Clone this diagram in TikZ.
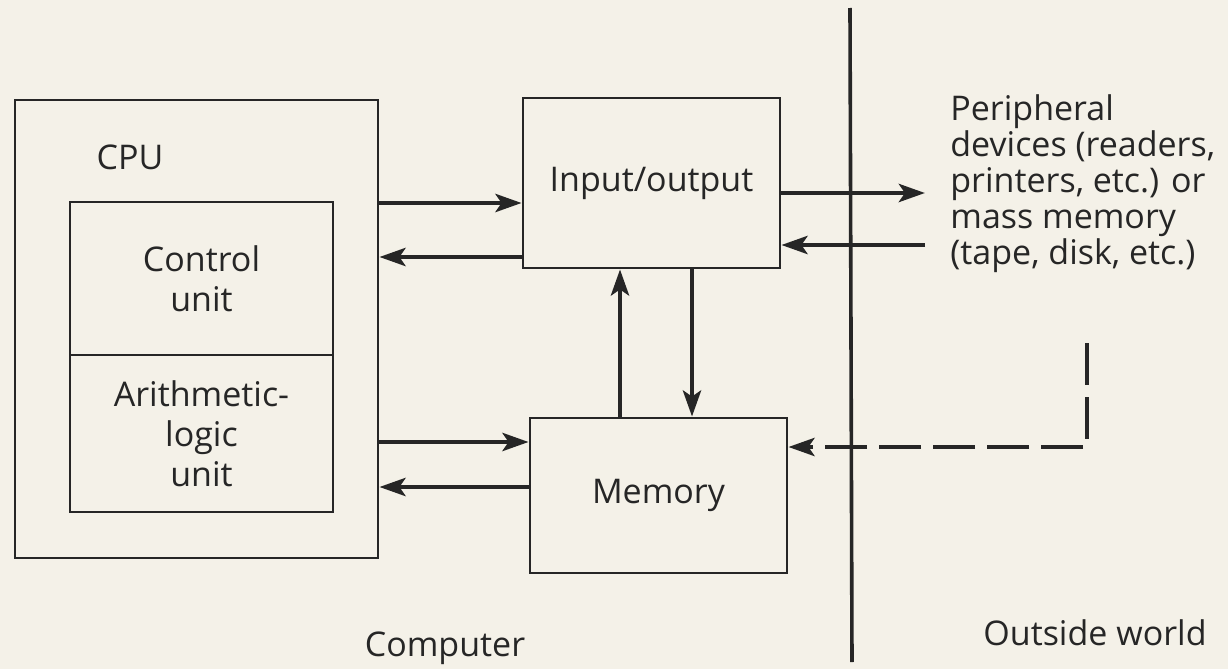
\documentclass[tikz,border=0pt]{standalone}
\usepackage{fontspec}
\setmainfont{Open Sans}
\usetikzlibrary{arrows.meta}
\definecolor{paper}{RGB}{244,241,232}
\definecolor{ink}{RGB}{38,38,38}
\tikzset{
    unit/.style={draw, line width=1.4pt, inner sep=0pt, align=center},
    flow/.style={line width=2.4pt, -{Stealth[length=13pt,width=9pt,inset=3pt]}},
    label/.style={inner sep=0pt, align=left},
}
\begin{document}
\begin{tikzpicture}[x=0.5pt, y=-0.5pt, ink, font=\fontsize{17}{20}\selectfont]
            \fill[paper] (0,0) rectangle (1228,669);
            \useasboundingbox (0,0) rectangle (1228,669);

            \node[unit, minimum width=181.5pt, minimum height=229pt] (cpu) at (196.5,329) {};
            \node (cpulabel) at (130,157) {CPU};
            \node[unit, minimum width=131.5pt, minimum height=76.5pt] (ctrl) at (201.5,278.5) {Control\\unit};
            \node[unit, minimum width=131.5pt, minimum height=78.5pt] (alu) at (201.5,433.5) {Arithmetic-\\logic\\unit};

            \node[unit, minimum width=128.5pt, minimum height=85pt] (io) at (651.5,183) {Input/output};
            \node[unit, minimum width=128.5pt, minimum height=77.5pt] (mem) at (658.5,495.5) {Memory};

            \node[label, anchor=north west, font=\fontsize{17}{18}\selectfont] (peri) at (950,94)
                {Peripheral\\devices (readers,\\printers, etc.) or\\mass memory\\(tape, disk, etc.)};

            \node (computer) at (445,648) {Computer};
            \node (outside) at (1095,633) {Outside world};

            \coordinate (divtop) at (850,8);
            \coordinate (divbot) at (852,662);
            \draw[line width=1.8pt] (divtop) -- (divbot);

            \draw[flow] (cpu.east |- 0,203) -- (io.west |- 0,203);
            \draw[flow] (io.west |- 0,257) -- (cpu.east |- 0,257);
            \draw[flow] (cpu.east |- 0,442) -- (mem.west |- 0,442);
            \draw[flow] (mem.west |- 0,487) -- (cpu.east |- 0,487);

            \draw[flow] (mem.north -| 620,0) -- (io.south -| 620,0);
            \draw[flow] (io.south -| 692,0) -- (mem.north -| 692,0);

            \coordinate (pout) at (925,193);
            \coordinate (pin) at (925,245);
            \draw[flow] (io.east |- pout) -- (pout);
            \draw[flow] (pin) -- (io.east |- pin);

            \coordinate (dtop) at (1087,343);
            \coordinate (dcorner) at (1087,447);
            \draw[flow, dash pattern=on 21pt off 6pt] (dtop) -- (dcorner) -- (mem.east |- dcorner);

        \end{tikzpicture}
\end{document}
